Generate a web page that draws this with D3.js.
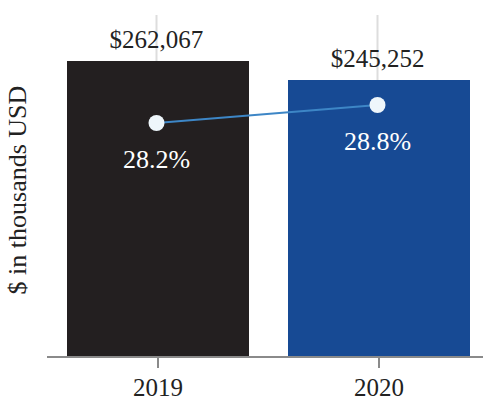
<!DOCTYPE html>
<html><head><meta charset="utf-8">
<script src="https://cdn.jsdelivr.net/npm/d3@7"></script>
<style>body{margin:0;background:#fff}svg{display:block}text{font-family:"Liberation Serif","Times New Roman",serif}</style>
</head><body>
<svg id="c" width="483" height="401"></svg>
<script>
const years = ["2019", "2020"];
const revenue = [262067, 245252];
const margin = [28.2, 28.8];
const barColors = ["#231f20", "#174a94"];

const svg = d3.select("#c");
const x = d3.scaleBand().domain(years).range([67, 470]).paddingInner(0.1765).paddingOuter(0);
const y = d3.scaleLinear().domain([0, 302800]).range([357, 15]);
const y2 = d3.scaleLinear().domain([20.4, 31.8]).range([357, 15]);
const cx = d => x(d) + x.bandwidth() / 2 - 1.5;

// gridlines
svg.selectAll(".grid").data(years).join("line")
  .attr("x1", cx).attr("x2", cx).attr("y1", 15).attr("y2", 357)
  .attr("stroke", "#dddddd").attr("stroke-width", 2);

// bars
svg.selectAll(".bar").data(years).join("rect")
  .attr("x", d => x(d)).attr("width", x.bandwidth())
  .attr("y", (d, i) => y(revenue[i])).attr("height", (d, i) => y(0) - y(revenue[i]))
  .attr("fill", (d, i) => barColors[i]);

// x axis
const xAxis = svg.append("g").attr("transform", "translate(0,357)")
  .call(d3.axisBottom(x).tickSize(11).tickPadding(10).offset(-1.5));
xAxis.select(".domain").attr("d", "M47,0H483").attr("stroke", "#8a8a8a").attr("stroke-width", 2);
xAxis.selectAll(".tick line").attr("stroke", "#8a8a8a").attr("stroke-width", 2);
xAxis.selectAll(".tick text").attr("font-size", 25).attr("fill", "#222")
  .attr("font-family", "'Liberation Serif', serif");

// value labels
svg.selectAll(".val").data(years).join("text")
  .attr("x", cx).attr("y", (d, i) => y(revenue[i]) - 13)
  .attr("text-anchor", "middle").attr("font-size", 25).attr("fill", "#222")
  .text((d, i) => "$" + d3.format(",")(revenue[i]));

// line
const line = d3.line().x(d => cx(d)).y((d, i) => y2(margin[i]));
svg.append("path").datum(years).attr("d", line)
  .attr("fill", "none").attr("stroke", "#3d86c6").attr("stroke-width", 2);

svg.selectAll(".pt").data(years).join("circle")
  .attr("cx", cx).attr("cy", (d, i) => y2(margin[i])).attr("r", 8)
  .attr("fill", "#eef6fb");

svg.selectAll(".pct").data(years).join("text")
  .attr("x", cx).attr("y", (d, i) => y2(margin[i]) + 45)
  .attr("text-anchor", "middle").attr("font-size", 26).attr("fill", "#ffffff")
  .text((d, i) => margin[i].toFixed(1) + "%");

// y title
svg.append("text").attr("transform", "translate(26,190) rotate(-90)")
  .attr("text-anchor", "middle").attr("font-size", 26).attr("fill", "#222")
  .text("$ in thousands USD");
</script>
</body></html>
